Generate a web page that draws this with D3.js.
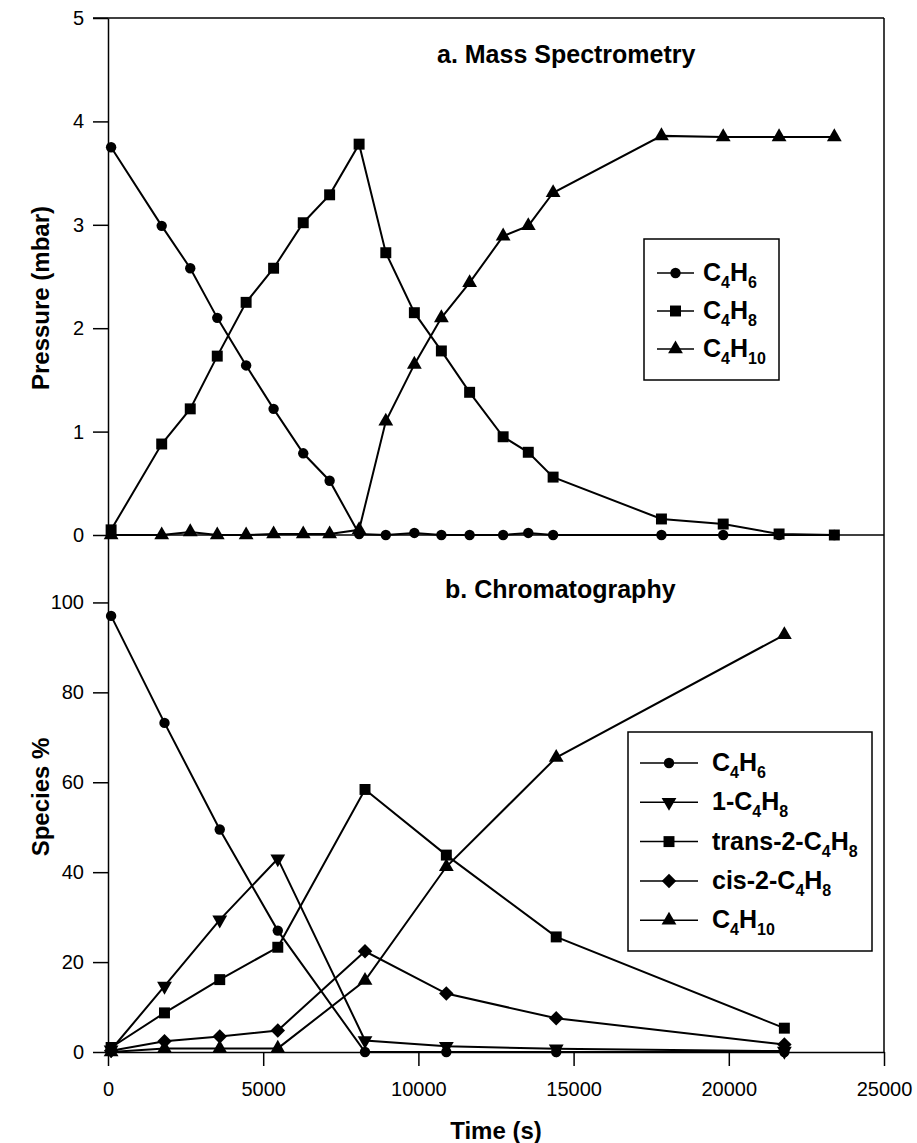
<!DOCTYPE html>
<html>
<head>
<meta charset="utf-8">
<script src="https://cdn.jsdelivr.net/npm/d3@7"></script>
<style>
body { margin: 0; background: #fff; }
text { font-family: Arial, "Liberation Sans", sans-serif; fill: #000; }
</style>
</head>
<body>
<svg width="917" height="1143"></svg>
<script>
// panel a: mass spectrometry, pressure in mbar
var timesA = [100, 1730, 2650, 3520, 4450, 5335, 6290, 7140, 8090, 8950, 9870, 10740, 11650, 12730, 13540, 14340, 17830, 19820, 21620, 23400];
var c4h6A  = [3.75, 2.99, 2.58, 2.10, 1.64, 1.22, 0.79, 0.525, 0.01, 0, 0.02, 0, 0, 0, 0.02, 0, 0, 0, 0, 0];
var c4h8A  = [0.05, 0.88, 1.22, 1.73, 2.25, 2.58, 3.02, 3.29, 3.78, 2.73, 2.15, 1.78, 1.38, 0.95, 0.80, 0.56, 0.155, 0.106, 0.01, 0];
var c4h10A = [0, 0, 0.03, 0, 0, 0.01, 0.01, 0.01, 0.05, 1.10, 1.65, 2.10, 2.44, 2.89, 2.99, 3.31, 3.86, 3.85, 3.85, 3.85];
var labelsA = ["C4H6", "C4H8", "C4H10"];

// panel b: chromatography, species %
var timesB = [100, 1820, 3600, 5470, 8280, 10900, 14440, 21790];
var c4h6B   = [97, 73.2, 49.5, 27.0, 0, 0, 0, 0];
var butene1 = [0.5, 14.65, 29.4, 43.0, 2.56, 1.3, 0.7, 0.2];
var trans2  = [1.0, 8.7, 16.1, 23.3, 58.4, 43.8, 25.6, 5.3];
var cis2    = [0.3, 2.4, 3.45, 4.8, 22.4, 13.0, 7.5, 1.67];
var c4h10B  = [0, 0.8, 0.8, 0.8, 15.9, 41.2, 65.5, 92.8];
var labelsB = ["C4H6", "1-C4H8", "trans-2-C4H8", "cis-2-C4H8", "C4H10"];

var xTicks = [0, 5000, 10000, 15000, 20000, 25000];
var yTicksA = [0, 1, 2, 3, 4, 5];
var yTicksB = [0, 20, 40, 60, 80, 100];

var svg = d3.select("svg");

var x = d3.scaleLinear().domain([0, 25000]).range([108, 884]),
    yA = d3.scaleLinear().domain([0, 5]).range([535, 18]),
    yB = d3.scaleLinear().domain([0, 115]).range([1052, 535]);

var markers = {
    circle:   { type: d3.symbolCircle, size: 85, rot: 0 },
    square:   { type: d3.symbolSquare, size: 120, rot: 0 },
    triangle: { type: d3.symbolTriangle, size: 95, rot: 0 },
    down:     { type: d3.symbolTriangle, size: 95, rot: 180 },
    diamond:  { type: d3.symbolSquare, size: 105, rot: 45 }
};

function symbolAt(g, m, cx, cy) {
    g.append("path")
        .attr("d", d3.symbol().type(markers[m].type).size(markers[m].size)())
        .attr("transform", "translate(" + cx + "," + cy + ") rotate(" + markers[m].rot + ")")
        .attr("fill", "#000");
}

// chemical formula: digits right after a letter go down as subscripts
function formula(t, s, big, small) {
    var parts = [], prevSub = false;
    for (var i = 0; i < s.length; i++) {
        var c = s[i];
        var sub = /[0-9]/.test(c) && i > 0 && (/[A-Za-z]/.test(s[i - 1]) || prevSub);
        if (parts.length && parts[parts.length - 1].sub === sub) parts[parts.length - 1].t += c;
        else parts.push({ t: c, sub: sub });
        prevSub = sub;
    }
    var last = false;
    parts.forEach(function(p) {
        var ts = t.append("tspan").text(p.t).style("font-size", (p.sub ? small : big) + "px");
        if (p.sub && !last) ts.attr("dy", 7);
        if (!p.sub && last) ts.attr("dy", -7);
        last = p.sub;
    });
}

function drawSeries(times, vals, y, m) {
    var pts = times.map(function(t, i) { return [t, vals[i]]; });
    var line = d3.line()
        .x(function(d) { return x(d[0]); })
        .y(function(d) { return y(d[1]); });
    var g = svg.append("g");
    g.append("path")
        .attr("d", line(pts))
        .attr("fill", "none")
        .attr("stroke", "#000")
        .attr("stroke-width", 2);
    pts.forEach(function(d) { symbolAt(g, m, x(d[0]), y(d[1])); });
}

// axes
function styleAxis(g, size) {
    g.selectAll("path, line").attr("stroke", "#000").attr("stroke-width", 1.5);
    g.selectAll("text").style("font-size", size + "px").attr("fill", "#000").attr("font-family", null);
}

var axA = svg.append("g").attr("transform", "translate(108,0)")
    .call(d3.axisLeft(yA).tickValues(yTicksA).tickFormat(d3.format("d")).tickSize(15).tickSizeOuter(0).tickPadding(9));
styleAxis(axA, 20);

var axB = svg.append("g").attr("transform", "translate(108,0)")
    .call(d3.axisLeft(yB).tickValues(yTicksB).tickFormat(d3.format("d")).tickSize(15).tickSizeOuter(0).tickPadding(9));
styleAxis(axB, 20);

var axX = svg.append("g").attr("transform", "translate(0,1052)")
    .call(d3.axisBottom(x).tickValues(xTicks).tickFormat(d3.format("d")).tickSize(14).tickSizeOuter(0).tickPadding(16));
styleAxis(axX, 20);

// frame lines
svg.append("line").attr("x1", 93).attr("x2", 884).attr("y1", 18).attr("y2", 18)
    .attr("stroke", "#000").attr("stroke-width", 1.5);
svg.append("line").attr("x1", 108).attr("x2", 884).attr("y1", 535).attr("y2", 535)
    .attr("stroke", "#000").attr("stroke-width", 1.5);
svg.append("line").attr("x1", 884).attr("x2", 884).attr("y1", 18).attr("y2", 1052)
    .attr("stroke", "#000").attr("stroke-width", 1.5);

// titles
svg.append("text").attr("x", 437).attr("y", 63)
    .style("font-size", "25px").style("font-weight", "bold").text("a. Mass Spectrometry");
svg.append("text").attr("x", 445).attr("y", 598)
    .style("font-size", "25px").style("font-weight", "bold").text("b. Chromatography");
svg.append("text").attr("x", 496).attr("y", 1139).attr("text-anchor", "middle")
    .style("font-size", "24px").style("font-weight", "bold").text("Time (s)");
svg.append("text").attr("transform", "translate(49,298) rotate(-90)").attr("text-anchor", "middle")
    .style("font-size", "24px").style("font-weight", "bold").text("Pressure (mbar)");
svg.append("text").attr("transform", "translate(49,797) rotate(-90)").attr("text-anchor", "middle")
    .style("font-size", "24px").style("font-weight", "bold").text("Species %");

// series
drawSeries(timesA, c4h6A, yA, "circle");
drawSeries(timesA, c4h8A, yA, "square");
drawSeries(timesA, c4h10A, yA, "triangle");

drawSeries(timesB, c4h6B, yB, "circle");
drawSeries(timesB, butene1, yB, "down");
drawSeries(timesB, trans2, yB, "square");
drawSeries(timesB, cis2, yB, "diamond");
drawSeries(timesB, c4h10B, yB, "triangle");

// legends
function legend(x0, y0, w, h, first, step, lx1, lx2, tx, labels, marks) {
    var g = svg.append("g");
    g.append("rect").attr("x", x0).attr("y", y0).attr("width", w).attr("height", h)
        .attr("fill", "#fff").attr("stroke", "#000").attr("stroke-width", 1.5);
    labels.forEach(function(lab, i) {
        var cy = first + i * step;
        g.append("line").attr("x1", lx1).attr("x2", lx2).attr("y1", cy).attr("y2", cy)
            .attr("stroke", "#000").attr("stroke-width", 1.5);
        symbolAt(g, marks[i], (lx1 + lx2) / 2, cy);
        var t = g.append("text").attr("x", tx).attr("y", cy + 8).style("font-weight", "bold");
        formula(t, lab, 25, 16);
    });
}

legend(644, 239, 135, 141, 273, 38, 657, 694, 703, labelsA, ["circle", "square", "triangle"]);
legend(628, 732, 244, 219, 763, 39.3, 640, 698, 712, labelsB, ["circle", "down", "square", "diamond", "triangle"]);
</script>
</body>
</html>
